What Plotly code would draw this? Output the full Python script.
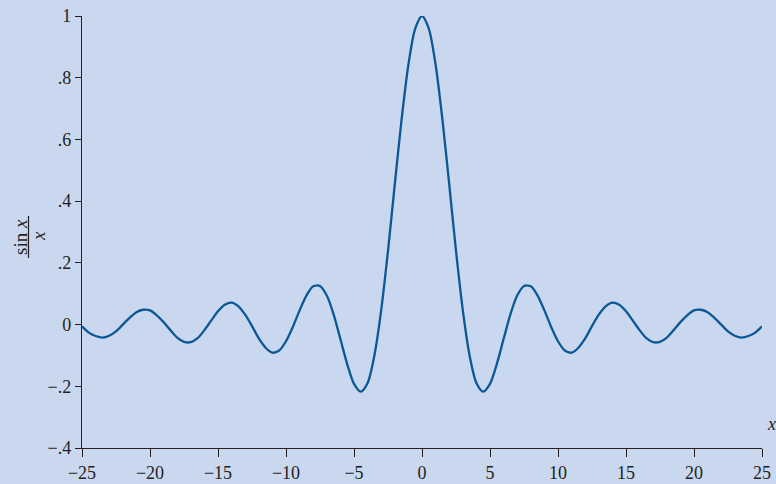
import plotly.graph_objects as go

# values
x_vals = [-25, -24.5, -24, -23.5, -23, -22.5, -22, -21.5, -21, -20.5, -20, -19.5, -19, -18.5, -18,
          -17.5, -17, -16.5, -16, -15.5, -15, -14.5, -14, -13.5, -13, -12.5, -12, -11.5, -11, -10.5,
          -10, -9.5, -9, -8.5, -8, -7.5, -7, -6.5, -6, -5.5, -5, -4.5, -4, -3.5, -3, -2.5, -2, -1.5,
          -1, -0.5, 0, 0.5, 1, 1.5, 2, 2.5, 3, 3.5, 4, 4.5, 5, 5.5, 6, 6.5, 7, 7.5, 8, 8.5, 9, 9.5,
          10, 10.5, 11, 11.5, 12, 12.5, 13, 13.5, 14, 14.5, 15, 15.5, 16, 16.5, 17, 17.5, 18, 18.5,
          19, 19.5, 20, 20.5, 21, 21.5, 22, 22.5, 23, 23.5, 24, 24.5, 25]
y_vals = [-0.006, -0.026, -0.037, -0.042, -0.036, -0.022, 0.000, 0.022, 0.040, 0.048, 0.046, 0.030,
          0.008, -0.018, -0.042, -0.056, -0.057, -0.044, -0.018, 0.013, 0.043, 0.064, 0.071, 0.059,
          0.032, -0.005, -0.045, -0.075, -0.091, -0.084, -0.054, -0.008, 0.046, 0.094, 0.124, 0.125,
          0.094, 0.033, -0.047, -0.128, -0.192, -0.217, -0.189, -0.100, 0.047, 0.239, 0.455, 0.665,
          0.842, 0.959, 1.000, 0.959, 0.842, 0.665, 0.455, 0.239, 0.047, -0.100, -0.189, -0.217,
          -0.192, -0.128, -0.047, 0.033, 0.094, 0.125, 0.124, 0.094, 0.046, -0.008, -0.054, -0.084,
          -0.091, -0.075, -0.045, -0.005, 0.032, 0.059, 0.071, 0.064, 0.043, 0.013, -0.018, -0.044,
          -0.057, -0.056, -0.042, -0.018, 0.008, 0.030, 0.046, 0.048, 0.040, 0.022, 0.000, -0.022,
          -0.036, -0.042, -0.037, -0.026, -0.006]

x_ticks = [-25, -20, -15, -10, -5, 0, 5, 10, 15, 20, 25]
x_tick_text = ["\u221225", "\u221220", "\u221215", "\u221210", "\u22125", "0", "5", "10", "15", "20", "25"]
y_ticks = [-0.4, -0.2, 0, 0.2, 0.4, 0.6, 0.8, 1]
y_tick_text = ["\u2212.4", "\u2212.2", "0", ".2", ".4", ".6", ".8", "1"]

W, H = 776, 484
L, R, T, B = 82, 14, 16, 36
PW, PH = W - L - R, H - T - B


def px(xp):
    return (xp - L) / PW


def py(yp):
    return (H - B - yp) / PH


INK = "#231f20"
FONT = "Liberation Serif"

fig = go.Figure()
fig.add_trace(go.Scatter(x=x_vals, y=y_vals, mode="lines",
                         line=dict(color="#0d5894", width=2.3, shape="spline", smoothing=0.8),
                         hoverinfo="skip", showlegend=False))

fig.update_layout(
    width=W, height=H,
    margin=dict(l=L, r=R, t=T, b=B, pad=0, autoexpand=False),
    paper_bgcolor="#c9d8ef", plot_bgcolor="#c9d8ef",
    font=dict(family=FONT, color=INK, size=18),
    showlegend=False,
)
fig.update_xaxes(range=[-25, 25], tickvals=x_ticks, ticktext=x_tick_text, showgrid=False,
                 zeroline=False, showline=True, linecolor=INK, linewidth=1.4,
                 ticks="outside", ticklen=8, tickwidth=1.4, tickcolor=INK, automargin=False,
                 tickfont=dict(family=FONT, size=18, color=INK), fixedrange=True)
fig.update_yaxes(range=[-0.4, 1], tickvals=y_ticks, ticktext=y_tick_text, showgrid=False,
                 zeroline=False, showline=True, linecolor=INK, linewidth=1.4,
                 ticks="outside", ticklen=6, tickwidth=1.4, tickcolor=INK, automargin=False,
                 tickfont=dict(family=FONT, size=18, color=INK), fixedrange=True)

# y-axis label: sin x / x as a rotated fraction
fig.add_annotation(x=px(20), y=py(237), xref="paper", yref="paper", text="sin <i>x</i>",
                   textangle=-90, showarrow=False, font=dict(family=FONT, size=19, color=INK),
                   xanchor="center", yanchor="middle")
fig.add_shape(type="line", xref="paper", yref="paper", x0=px(28.5), x1=px(28.5),
              y0=py(216), y1=py(258), line=dict(color=INK, width=1.2))
fig.add_annotation(x=px(38), y=py(236), xref="paper", yref="paper", text="<i>x</i>",
                   textangle=-90, showarrow=False, font=dict(family=FONT, size=19, color=INK),
                   xanchor="center", yanchor="middle")
# x-axis label
fig.add_annotation(x=px(771), y=py(424), xref="paper", yref="paper", text="<i>x</i>",
                   showarrow=False, font=dict(family=FONT, size=18, color=INK),
                   xanchor="center", yanchor="middle")

fig.write_html("out.html")
